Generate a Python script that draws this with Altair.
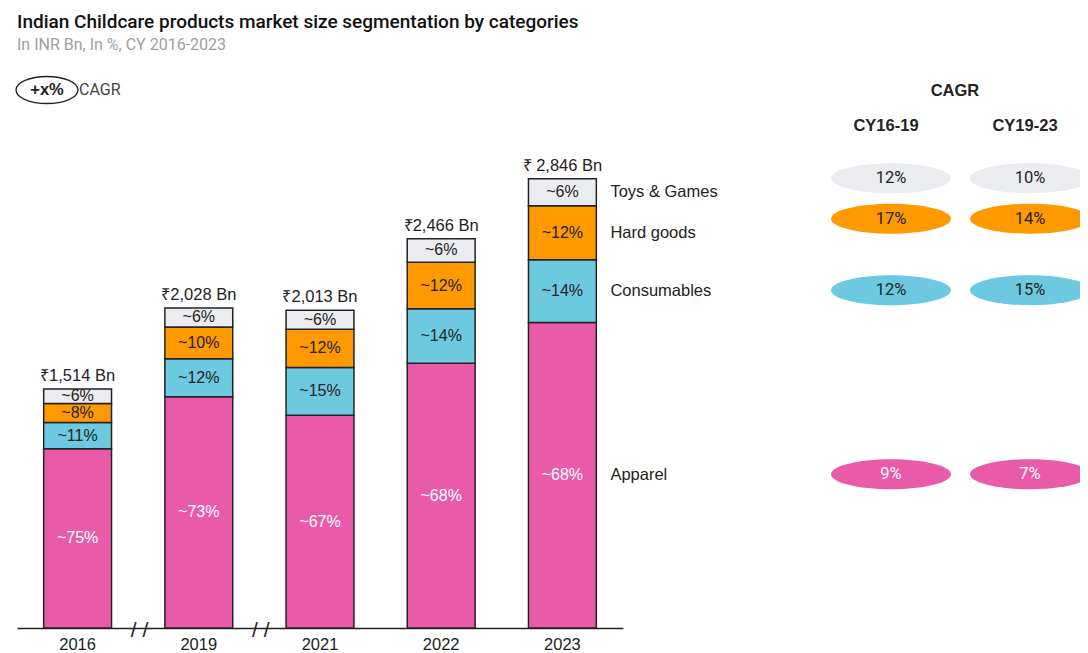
import altair as alt
import pandas as pd

# ---------------- data ----------------
years = ["2016", "2019", "2021", "2022", "2023"]
totals = [1514, 2028, 2013, 2466, 2846]
total_labels = ["₹1,514 Bn", "₹2,028 Bn", "₹2,013 Bn", "₹2,466 Bn", "₹ 2,846 Bn"]

categories = ["Apparel", "Consumables", "Hard goods", "Toys & Games"]  # bottom -> top
share_apparel = [75, 73, 67, 68, 68]
share_consumables = [11, 12, 15, 14, 14]
share_hard = [8, 10, 12, 12, 12]
share_toys = [6, 6, 6, 6, 6]

cagr_periods = ["CY16-19", "CY19-23"]
cagr_apparel = [9, 7]
cagr_consumables = [12, 15]
cagr_hard = [17, 14]
cagr_toys = [12, 10]

colors = ["#E95BA9", "#6CC9E0", "#FF9900", "#EBECF0"]

# ---------------- tables ----------------
shares = [share_apparel, share_consumables, share_hard, share_toys]
rows = []
for i, yr in enumerate(years):
    ssum = sum(s[i] for s in shares)
    cum = 0.0
    for c, cat in enumerate(categories):
        v = totals[i] * shares[c][i] / ssum
        rows.append(dict(year=yr, category=cat, start=cum, end=cum + v,
                         mid=cum + v / 2, label=f"~{shares[c][i]}%",
                         tcolor="white" if cat == "Apparel" else "#222222"))
        cum += v
seg = pd.DataFrame(rows)
tot = pd.DataFrame(dict(year=years, total=totals, label=total_labels))

mid2023 = {r["category"]: r["mid"] for r in rows if r["year"] == "2023"}
cagrs = [cagr_apparel, cagr_consumables, cagr_hard, cagr_toys]
trows = []
for c, cat in enumerate(categories):
    for j, p in enumerate(cagr_periods):
        trows.append(dict(category=cat, period=p, y=mid2023[cat],
                          label=f"{cagrs[c][j]}%",
                          tcolor="white" if cat == "Apparel" else "#222222",
                          grp="top" if cat in ("Hard goods", "Toys & Games") else "bottom"))
tab = pd.DataFrame(trows)

breaks = pd.DataFrame(dict(year=["2016", "2019"], v=[0, 0]))
periods_df = pd.DataFrame(dict(period=cagr_periods))

# ---------------- scales ----------------
yscale = alt.Scale(domain=[0, 3485], nice=False, zero=True)
xscale = alt.Scale(domain=years, range=[0, 606], paddingInner=0.44, paddingOuter=0.22)
cscale = alt.Scale(domain=categories, range=colors)
FONT = "Liberation Sans"
xaxis = alt.Axis(title=None, labelAngle=0, ticks=False, domainColor="#222222",
                 domainWidth=1.5, labelFont=FONT, labelFontSize=16.5,
                 labelColor="#222222", labelPadding=8, grid=False)
X = alt.X("year:N", scale=xscale, axis=xaxis)

bars = alt.Chart(seg).mark_bar(stroke="#222222", strokeWidth=1.5).encode(
    x=X,
    y=alt.Y("start:Q", scale=yscale, axis=None),
    y2="end:Q",
    color=alt.Color("category:N", scale=cscale, legend=None),
)
seg_text = alt.Chart(seg).mark_text(font=FONT, fontSize=16, baseline="middle").encode(
    x=X, y=alt.Y("mid:Q", scale=yscale, axis=None),
    text="label:N", color=alt.Color("tcolor:N", scale=None))
tot_text = alt.Chart(tot).mark_text(font=FONT, fontSize=16.5, baseline="middle", dy=-13,
                                    color="#222222").encode(
    x=X, y=alt.Y("total:Q", scale=yscale, axis=None), text="label:N")
cat_text = alt.Chart(seg[seg.year == "2023"]).mark_text(
    font=FONT, fontSize=16.5, baseline="middle", align="left", dx=48, color="#222222").encode(
    x=X, y=alt.Y("mid:Q", scale=yscale, axis=None), text="category:N")
brk = alt.Chart(breaks).mark_text(font=FONT, fontSize=21, baseline="middle", dx=62, dy=3,
                                  text="/ /", color="#222222").encode(
    x=X, y=alt.Y("v:Q", scale=yscale, axis=None))

main = alt.layer(bars, seg_text, tot_text, cat_text, brk)

# ---------------- CAGR table ----------------
TX = alt.X("period:N", scale=alt.Scale(type="point", domain=cagr_periods,
                                       range=[874, 1013], padding=0), axis=None)
ELL = ("M -1 0 C -1 -0.138 -0.552 -0.25 0 -0.25 C 0.552 -0.25 1 -0.138 1 0 "
       "C 1 0.138 0.552 0.25 0 0.25 C -0.552 0.25 -1 0.138 -1 0 Z")

def ell_layer(grp, off):
    d = tab[tab.grp == grp]
    e = alt.Chart(d).mark_point(shape=ELL, size=14400, filled=True, opacity=1,
                                strokeWidth=0, yOffset=off).encode(
        x=TX, y=alt.Y("y:Q", scale=yscale, axis=None),
        color=alt.Color("category:N", scale=cscale, legend=None))
    t = alt.Chart(d).mark_text(font="Roboto", fontSize=16.5, baseline="middle",
                               yOffset=off).encode(
        x=TX, y=alt.Y("y:Q", scale=yscale, axis=None),
        text="label:N", color=alt.Color("tcolor:N", scale=None))
    return [e, t]

hdr = alt.Chart(periods_df).mark_text(font=FONT, fontSize=16.5, fontWeight="bold",
                                      baseline="middle", dx=-5, color="#222222").encode(
    x=TX, y=alt.value(48), text="period:N")
table = alt.layer(*ell_layer("top", -14), *ell_layer("bottom", -1), hdr)

# ---------------- legend / headers ----------------
LEG = ("M -1 0 C -1 -0.24 -0.552 -0.435 0 -0.435 C 0.552 -0.435 1 -0.24 1 0 "
       "C 1 0.24 0.552 0.435 0 0.435 C -0.552 0.435 -1 0.24 -1 0 Z")
one = pd.DataFrame(dict(a=[0]))
leg_ell = alt.Chart(one).mark_point(shape=LEG, size=3844, filled=False, stroke="#222222",
                                    strokeWidth=1.3, opacity=1).encode(
    x=alt.value(30), y=alt.value(12))
leg_txt = alt.Chart(one).mark_text(font=FONT, fontSize=16.5, fontWeight="bold",
                                   baseline="middle", text="+x%", color="#222222").encode(
    x=alt.value(30), y=alt.value(12))
leg_lab = alt.Chart(one).mark_text(font="Roboto", fontSize=16, baseline="middle",
                                   align="left", text="CAGR", color="#444444").encode(
    x=alt.value(62), y=alt.value(12))
cagr_hdr = alt.Chart(one).mark_text(font=FONT, fontSize=16.5, fontWeight="bold",
                                    baseline="middle", text="CAGR", color="#222222").encode(
    x=alt.value(938), y=alt.value(13))

chart = alt.layer(main, table, leg_ell, leg_txt, leg_lab, cagr_hdr).resolve_scale(
    x="independent"
).properties(
    width=1063, height=550,
    padding={"left": 9, "top": 70, "right": 0, "bottom": 25},
    autosize=alt.AutoSizeParams(type="none"),
    title=alt.TitleParams(
        text="Indian Childcare products market size segmentation by categories",
        subtitle="In INR Bn, In %, CY 2016-2023",
        anchor="start", frame="group", font="Roboto", fontSize=19, fontWeight=500,
        color="#111111", subtitleFont="Roboto", subtitleFontSize=16,
        subtitleColor="#a0a0a0", subtitlePadding=5, offset=21),
).configure_view(stroke=None)

chart.save("out.html", embed_options={"renderer": "svg", "actions": False})
